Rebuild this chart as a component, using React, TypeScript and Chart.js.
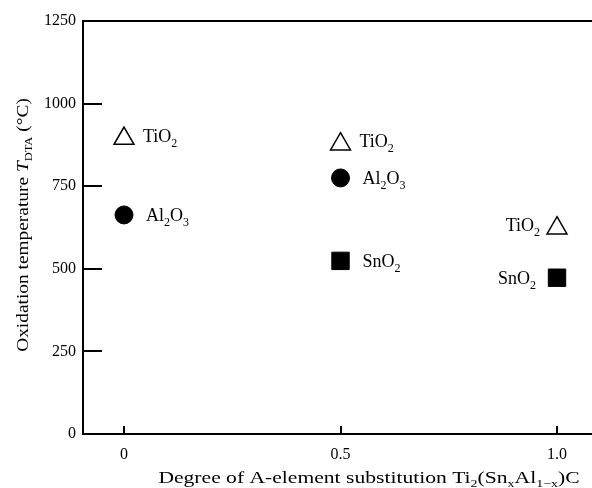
import React, { useEffect, useRef } from 'react';
import { Chart, registerables } from 'chart.js';

Chart.register(...registerables);

// ---- data ----
const xTickValues = [0, 0.5, 1.0];
const xTickLabels = ['0', '0.5', '1.0'];
const yTickValues = [0, 250, 500, 750, 1000, 1250];

const tio2X = [0, 0.5, 1.0];
const tio2Y = [894, 877, 623];
const tio2Side = ['right', 'right', 'left'];

const al2o3X = [0, 0.5];
const al2o3Y = [663, 775];
const al2o3Side = ['right', 'right'];

const sno2X = [0.5, 1.0];
const sno2Y = [524, 473];
const sno2Side = ['right', 'left'];

const seriesNames = ['TiO2', 'Al2O3', 'SnO2'];
const seriesSides = [tio2Side, al2o3Side, sno2Side];

const xTitleParts = [
  { t: 'Degree of A-element substitution Ti' },
  { t: '2', sub: true },
  { t: '(Sn' },
  { t: 'x', sub: true },
  { t: 'Al' },
  { t: '1\u2212x', sub: true },
  { t: ')C' },
];
const yTitleParts = [
  { t: 'Oxidation temperature ' },
  { t: 'T', italic: true },
  { t: 'DTA', sub: true },
  { t: ' (\u00B0C)' },
];

const FONT = '"Liberation Serif", "Times New Roman", serif';

type Part = { t: string; sub?: boolean; italic?: boolean };

function formulaParts(s: string): Part[] {
  const out: Part[] = [];
  const re = /(\d+|\D+)/g;
  let m;
  while ((m = re.exec(s))) out.push({ t: m[1], sub: /\d/.test(m[1]) });
  return out;
}

function drawRich(
  ctx: CanvasRenderingContext2D,
  parts: Part[],
  x: number,
  y: number,
  align: 'left' | 'right' | 'center',
  size: number,
  subSize: number,
  subDy: number,
  stretch = 1
) {
  const font = (p: Part) => `${p.italic ? 'italic ' : ''}${p.sub ? subSize : size}px ${FONT}`;
  let w = 0;
  for (const p of parts) {
    ctx.font = font(p);
    w += ctx.measureText(p.t).width;
  }
  ctx.save();
  ctx.translate(x, y);
  ctx.scale(stretch, 1);
  let cx = align === 'left' ? 0 : align === 'right' ? -w : -w / 2;
  ctx.textAlign = 'left';
  ctx.textBaseline = 'alphabetic';
  for (const p of parts) {
    ctx.font = font(p);
    ctx.fillText(p.t, cx, p.sub ? subDy : 0);
    cx += ctx.measureText(p.t).width;
  }
  ctx.restore();
}

const decorPlugin = {
  id: 'decor',
  afterDraw(chart: any) {
    const ctx: CanvasRenderingContext2D = chart.ctx;
    const { left, right, top, bottom } = chart.chartArea;
    const xs = chart.scales.x;
    const ys = chart.scales.y;
    ctx.save();
    ctx.strokeStyle = '#000';
    ctx.fillStyle = '#000';
    ctx.lineWidth = 2;
    // top frame line
    ctx.beginPath();
    ctx.moveTo(left - 1, top);
    ctx.lineTo(right, top);
    ctx.stroke();
    // inward y ticks
    for (const v of yTickValues) {
      if (v <= 0 || v >= 1250) continue;
      const y = Math.round(ys.getPixelForValue(v));
      ctx.beginPath();
      ctx.moveTo(left, y);
      ctx.lineTo(left + 19, y);
      ctx.stroke();
    }
    // inward x ticks
    for (const v of xTickValues) {
      const x = Math.round(xs.getPixelForValue(v));
      ctx.beginPath();
      ctx.moveTo(x, bottom);
      ctx.lineTo(x, bottom - 8);
      ctx.stroke();
    }
    // point labels
    chart.data.datasets.forEach((ds: any, di: number) => {
      const meta = chart.getDatasetMeta(di);
      const parts = formulaParts(seriesNames[di]);
      const sides = seriesSides[di];
      const isTri = di === 0;
      meta.data.forEach((el: any, i: number) => {
        const side = sides[i];
        const cy = isTri ? el.y - 3 : el.y;
        const base = cy + 6;
        if (side === 'right') {
          drawRich(ctx, parts, el.x + (isTri ? 19 : 22), base, 'left', 18, 12, 5);
        } else {
          drawRich(ctx, parts, el.x - (isTri ? 17 : 21), base, 'right', 18, 12, 5);
        }
      });
    });
    // x title
    drawRich(ctx, xTitleParts, 369, 483, 'center', 17, 11, 4, 1.27);
    // y title
    ctx.save();
    ctx.translate(28, 225);
    ctx.rotate(-Math.PI / 2);
    drawRich(ctx, yTitleParts, 0, 0, 'center', 17, 11, 4, 1.14);
    ctx.restore();
    ctx.restore();
  },
};

export default function App() {
  const ref = useRef<HTMLCanvasElement>(null);
  useEffect(() => {
    if (!ref.current) return;
    const toPts = (xs: number[], ys: number[]) => xs.map((x, i) => ({ x, y: ys[i] }));
    const chart = new Chart(ref.current, {
      type: 'scatter',
      data: {
        datasets: [
          {
            label: 'TiO2',
            data: toPts(tio2X, tio2Y),
            pointStyle: 'triangle',
            pointRadius: 11.5,
            pointBackgroundColor: '#fff',
            pointBorderColor: '#000',
            pointBorderWidth: 1.5,
          },
          {
            label: 'Al2O3',
            data: toPts(al2o3X, al2o3Y),
            pointStyle: 'circle',
            pointRadius: 9,
            pointBackgroundColor: '#000',
            pointBorderColor: '#000',
            pointBorderWidth: 1,
          },
          {
            label: 'SnO2',
            data: toPts(sno2X, sno2Y),
            pointStyle: 'rect',
            pointRadius: 12.3,
            pointBackgroundColor: '#000',
            pointBorderColor: '#000',
            pointBorderWidth: 1,
          },
        ],
      },
      options: {
        responsive: false,
        animation: false,
        layout: { padding: { top: 21, right: 4, left: 0, bottom: 0 } },
        plugins: { legend: { display: false }, tooltip: { enabled: false } },
        scales: {
          x: {
            type: 'linear',
            min: -0.0947,
            max: 1.1009,
            afterBuildTicks: (s: any) => {
              s.ticks = xTickValues.map((v) => ({ value: v }));
            },
            afterFit: (s: any) => {
              s.height = 54;
              s.paddingLeft = 0;
              s.paddingRight = 0;
            },
            grid: { display: false, drawTicks: false },
            border: { display: true, color: '#000', width: 2 },
            ticks: {
              padding: 11,
              color: '#000',
              font: { family: FONT, size: 16 },
              callback: (v: any) => {
                const i = xTickValues.indexOf(Number(v));
                return i >= 0 ? xTickLabels[i] : '';
              },
            },
          },
          y: {
            type: 'linear',
            min: 0,
            max: 1250,
            afterBuildTicks: (s: any) => {
              s.ticks = yTickValues.map((v) => ({ value: v }));
            },
            afterFit: (s: any) => {
              s.width = 83;
              s.paddingTop = 0;
              s.paddingBottom = 0;
            },
            grid: { display: false, drawTicks: false },
            border: { display: true, color: '#000', width: 2 },
            ticks: {
              padding: 7,
              color: '#000',
              font: { family: FONT, size: 16 },
              callback: (v: any) => String(v),
            },
          },
        },
      },
      plugins: [decorPlugin],
    });
    return () => chart.destroy();
  }, []);
  return (
    <div
      style={{
        position: 'absolute',
        left: 0,
        top: 0,
        width: 592,
        height: 488,
        overflow: 'hidden',
        background: '#fff',
      }}
    >
      <canvas ref={ref} width={614} height={488} style={{ display: 'block' }} />
    </div>
  );
}
